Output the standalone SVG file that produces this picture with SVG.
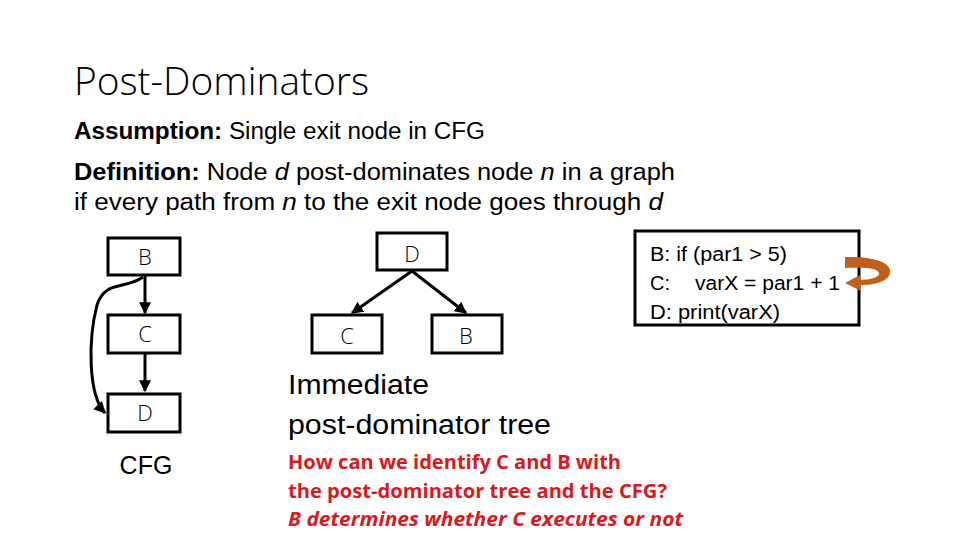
<svg xmlns="http://www.w3.org/2000/svg" width="960" height="540" viewBox="0 0 960 540">
<defs>
<marker id="ah" viewBox="0 0 10 10" refX="9" refY="5" markerWidth="4" markerHeight="4" orient="auto" markerUnits="strokeWidth">
<path d="M0,0 L10,5 L0,10 z" fill="#000"/>
</marker>
<style>
.t{font-family:"Liberation Sans","Open Sans",sans-serif;fill:#000}
.light{font-family:"Open Sans","Lato","Liberation Sans",sans-serif;font-weight:300;fill:#000}
.box{fill:#fff;stroke:#000;stroke-width:3}
.lbl{font-family:"Open Sans","Liberation Sans",sans-serif;font-weight:300;font-size:22px;fill:#000;text-anchor:middle}
.edge{fill:none;stroke:#000;stroke-width:3;marker-end:url(#ah)}
.red{font-family:"Open Sans","Liberation Sans",sans-serif;font-size:20px;font-weight:bold;fill:#D71920}
</style>
</defs>
<rect width="960" height="540" fill="#fff"/>
<text class="light" x="74" y="95" font-size="38" textLength="295" lengthAdjust="spacingAndGlyphs">Post-Dominators</text>
<text class="t" x="74" y="139" font-size="23" textLength="411" lengthAdjust="spacingAndGlyphs"><tspan font-weight="bold">Assumption:</tspan> Single exit node in CFG</text>
<text class="t" x="74" y="180" font-size="23" textLength="601" lengthAdjust="spacingAndGlyphs"><tspan font-weight="bold">Definition:</tspan> Node <tspan font-style="italic">d</tspan> post-dominates node <tspan font-style="italic">n</tspan> in a graph</text>
<text class="t" x="74" y="210" font-size="23" textLength="589" lengthAdjust="spacingAndGlyphs">if every path from <tspan font-style="italic">n</tspan> to the exit node goes through <tspan font-style="italic">d</tspan></text>

<g id="connectors">
<line class="edge" x1="145" y1="276" x2="145" y2="313"/>
<line class="edge" x1="145" y1="354" x2="145" y2="391"/>
<path class="edge" d="M143,277 C125,290 105,280 97,305 C88,340 88,395 105,413"/>
<line class="edge" x1="412" y1="271" x2="352" y2="313"/>
<line class="edge" x1="412" y1="271" x2="466" y2="313"/>
</g>

<g id="cfg-B"><rect class="box" x="108" y="238" width="72" height="37"/><text class="lbl" x="145" y="265">B</text></g>
<g id="cfg-C"><rect class="box" x="108" y="315" width="72" height="38"/><text class="lbl" x="145" y="342">C</text></g>
<g id="cfg-D"><rect class="box" x="108" y="394" width="72" height="38"/><text class="lbl" x="145" y="421">D</text></g>
<text class="t" x="146" y="474" font-size="25" text-anchor="middle">CFG</text>

<g id="tree-D"><rect class="box" x="377" y="233" width="70" height="37"/><text class="lbl" x="412" y="262">D</text></g>
<g id="tree-C"><rect class="box" x="312" y="315" width="70" height="38"/><text class="lbl" x="347" y="344">C</text></g>
<g id="tree-B"><rect class="box" x="432" y="315" width="70" height="38"/><text class="lbl" x="466" y="344">B</text></g>

<text class="t" x="288" y="394" font-size="27" textLength="141" lengthAdjust="spacingAndGlyphs">Immediate</text>
<text class="t" x="288" y="434" font-size="27" textLength="263" lengthAdjust="spacingAndGlyphs">post-dominator tree</text>

<text class="red" x="288" y="469" textLength="333" lengthAdjust="spacingAndGlyphs">How can we identify C and B with</text>
<text class="red" x="288" y="498" textLength="379" lengthAdjust="spacingAndGlyphs">the post-dominator tree and the CFG?</text>
<text class="red" x="288" y="526" font-style="italic" textLength="395" lengthAdjust="spacingAndGlyphs">B determines whether C executes or not</text>

<g id="code">
<rect class="box" x="635" y="231" width="224" height="94"/>
<text class="t" x="650" y="261" font-size="20" textLength="137" lengthAdjust="spacingAndGlyphs">B: if (par1 &gt; 5)</text>
<text class="t" font-size="20"><tspan x="650" y="290">C:</tspan><tspan x="695" y="290" textLength="145" lengthAdjust="spacingAndGlyphs">varX = par1 + 1</tspan></text>
<text class="t" x="650" y="319" font-size="20" textLength="130" lengthAdjust="spacingAndGlyphs">D: print(varX)</text>
</g>

<g id="loop-arrow">
<path d="M845,257 C872,256 892,262 890,273 C888,282 874,285 860,285 L859,280 C871,280 880,277 879,273 C878,268 866,267 845,268 Z" fill="#C0601A"/>
<path d="M845,283 L860,275 L861,291 Z" fill="#C0601A"/>
</g>
</svg>
